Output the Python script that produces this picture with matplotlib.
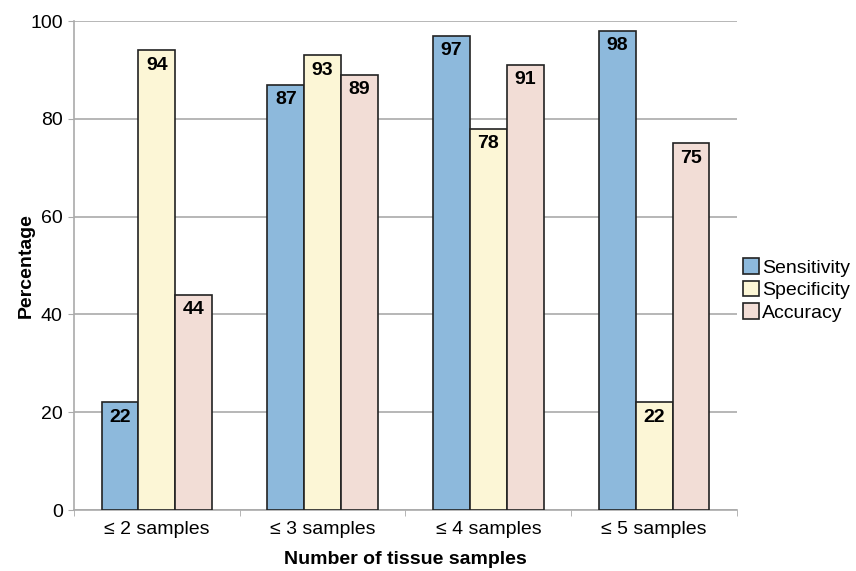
import numpy as np
import matplotlib.pyplot as plt

plt.rcParams['font.family'] = ['Liberation Sans', 'DejaVu Sans']

categories = ['≤ 2 samples', '≤ 3 samples', '≤ 4 samples', '≤ 5 samples']
sensitivity = [22, 87, 97, 98]
specificity = [94, 93, 78, 22]
accuracy = [44, 89, 91, 75]

series = [('Sensitivity', sensitivity, '#8db9dc'),
          ('Specificity', specificity, '#fcf6d6'),
          ('Accuracy', accuracy, '#f2ddd6')]

fig = plt.figure(figsize=(8.56, 5.71), dpi=100)
ax = fig.add_axes([0.0864, 0.1068, 0.7746, 0.8564])

x = np.arange(len(categories))
w = 0.222
for i, (name, vals, col) in enumerate(series):
    bars = ax.bar(x + (i - 1) * w, vals, w, color=col, edgecolor='#222222',
                  linewidth=1.2, label=name, zorder=3)
    for b, v in zip(bars, vals):
        ax.text(b.get_x() + b.get_width() / 2, v - 1.3, str(v), ha='center', va='top',
                fontsize=14, fontweight='bold', zorder=4)

ax.set_xlim(-0.5, len(categories) - 0.5)
ax.set_ylim(0, 100)
ax.set_yticks([0, 20, 40, 60, 80, 100])
ax.set_xticks(x)
ax.set_xticklabels(categories, fontsize=14)
ax.set_xticks(np.arange(len(categories) + 1) - 0.5, minor=True)
ax.tick_params(axis='x', which='major', length=0, pad=8)
ax.tick_params(axis='x', which='minor', length=4, color='#aaaaaa')
ax.tick_params(axis='y', labelsize=14, length=4, color='#aaaaaa', pad=4)
ax.yaxis.grid(True, color='#aaaaaa', linewidth=1.2, zorder=0)
ax.set_axisbelow(True)
for s in ['top', 'right']:
    ax.spines[s].set_visible(False)
for s in ['left', 'bottom']:
    ax.spines[s].set_color('#aaaaaa')
    ax.spines[s].set_linewidth(1.2)

ax.set_xlabel('Number of tissue samples', fontsize=14, fontweight='bold', labelpad=9)
ax.set_ylabel('Percentage', fontsize=14, fontweight='bold', labelpad=-3)

leg = ax.legend(loc='center left', bbox_to_anchor=(0.997, 0.45), frameon=False,
                fontsize=14, handlelength=0.85, handleheight=0.85, handletextpad=0.15,
                labelspacing=0.2, borderaxespad=0)

fig.savefig('out.png', dpi=100)
